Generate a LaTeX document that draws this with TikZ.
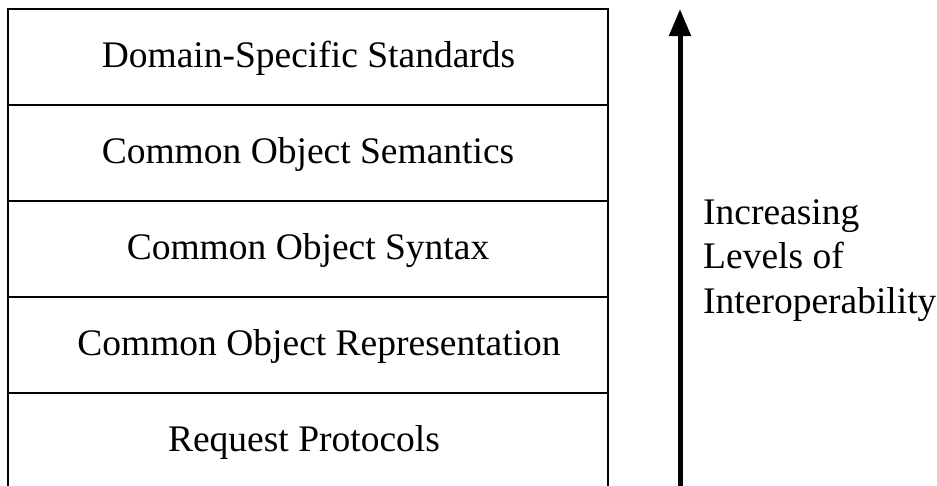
\documentclass[tikz,border=0pt]{standalone}
\usepackage{fontspec}
\setmainfont{Liberation Serif}
\usetikzlibrary{arrows.meta,calc}
\begin{document}
\begin{tikzpicture}[x=1pt,y=-1pt,
  layerbox/.style={draw=black,line width=2.2pt,minimum width=600pt,minimum height=96pt,inner sep=0pt},
  layertext/.style={inner sep=0pt,anchor=base,font=\fontsize{37.5}{44}\selectfont},
  rise/.style={line width=5pt,-{Triangle[length=27pt,width=21pt]}},
  caption/.style={align=left,inner sep=0pt,anchor=north west,font=\fontsize{37.5}{44.5}\selectfont}]
  \useasboundingbox (0,0) rectangle (937,485);
  \clip (0,0) rectangle (937,485);
  % stack of interoperability layers, top to bottom
  \node[layerbox] (domain)   at (308,57)  {};
  \node[layerbox] (semantic) at (308,153) {};
  \node[layerbox] (syntax)   at (308,249) {};
  \node[layerbox] (repr)     at (308,345) {};
  \node[layerbox] (request)  at (308,441) {};
  \node[layertext] (domaintxt)   at ($(domain)+(0.5,10)$)   {Domain-Specific Standards};
  \node[layertext] (semantictxt) at ($(semantic)+(0,10)$)   {Common Object Semantics};
  \node[layertext] (syntaxtxt)   at ($(syntax)+(0,10)$)     {Common Object Syntax};
  \node[layertext] (reprtxt)     at ($(repr)+(11,10)$)      {Common Object Representation};
  \node[layertext] (requesttxt)  at ($(request)+(-4,10)$)   {Request Protocols};
  % upward arrow
  \coordinate (base) at (680,495);
  \coordinate (tip) at (680,9);
  \draw[rise] (base) -- (tip);
  \node[caption] (levels) at (703,199) {Increasing\\Levels of\\Interoperability};
\end{tikzpicture}
\end{document}
